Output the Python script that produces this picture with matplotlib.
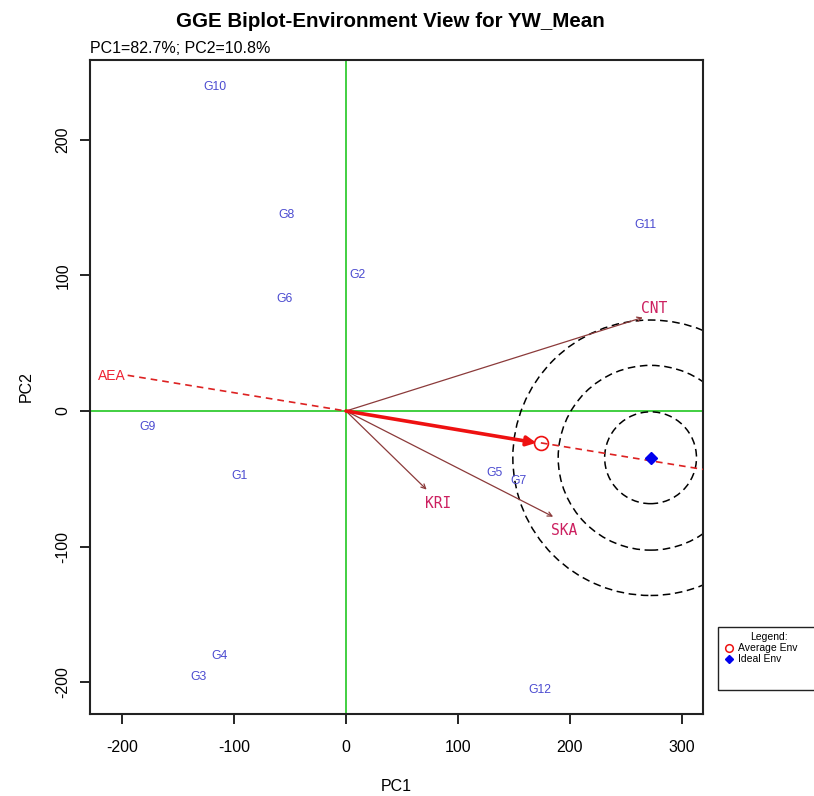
import numpy as np
import matplotlib.pyplot as plt
from matplotlib.patches import Ellipse, Rectangle
from matplotlib.lines import Line2D

plt.rcParams['axes.unicode_minus'] = False

# genotype scores (PC1, PC2)
gen_names = ['G1', 'G2', 'G3', 'G4', 'G5', 'G6', 'G7', 'G8', 'G9', 'G10', 'G11', 'G12']
gen_pc1 = [-95, 10, -132, -113, 133, -55, 154, -53, -177, -117, 267, 173]
gen_pc2 = [-48, 100, -196, -181, -46, 83, -52, 145, -12, 239, 137, -206]

# environment vectors
env_names = ['CNT', 'KRI', 'SKA']
env_pc1 = [265, 72, 185]
env_pc2 = [69, -58, -78]

# average environment, ideal environment, AEA label point
avg_env = [174, -23.5]
ideal_env = [272, -34.5]
aea_point = [-209, 26]

# concentric rings around the ideal env (PC1 units)
ring_radius = [41, 82.5, 123]

xlim = (-228.6, 318.8)
ylim = (-223.6, 259)

fig = plt.figure(figsize=(8.14, 7.96), dpi=100)
ax = fig.add_axes([0.1106, 0.103, 0.7530, 0.8216])
ax.set_xlim(xlim)
ax.set_ylim(ylim)

ax.axhline(0, color='#33cc33', lw=1.3, zorder=1)
ax.axvline(0, color='#33cc33', lw=1.3, zorder=1)

# rings: round on screen, so scale y radius by the axis aspect
bbox = ax.get_window_extent()
px_x = bbox.width / (xlim[1] - xlim[0])
px_y = bbox.height / (ylim[1] - ylim[0])
for r in ring_radius:
    e = Ellipse(ideal_env, 2 * r, 2 * r * px_x / px_y, fill=False,
                ls=(0, (5, 3)), lw=1.1, color='black', zorder=2)
    ax.add_patch(e)

# AEA line
slope = avg_env[1] / avg_env[0]
ax.plot([aea_point[0] + 14, 0], [slope * (aea_point[0] + 14), 0],
        color='#dd2222', ls=(0, (4, 3)), lw=1.2, zorder=3)
ax.plot([avg_env[0], xlim[1]], [avg_env[1], slope * xlim[1]],
        color='#dd2222', ls=(0, (4, 3)), lw=1.2, zorder=3)
ax.text(aea_point[0], aea_point[1], 'AEA', color='#ee2233', fontsize=10,
        ha='center', va='center', family='Liberation Sans')

# environment vectors
for name, x, y in zip(env_names, env_pc1, env_pc2):
    ax.annotate('', xy=(x, y), xytext=(0, 0),
                arrowprops=dict(arrowstyle='->', color='#8b3a3a', lw=0.9,
                                shrinkA=0, shrinkB=0, mutation_scale=8))
    ax.text(x + 10, y - 10 if y < 0 else y + 7, name, color='#cc2060',
            fontsize=10.5, family='DejaVu Sans Mono', ha='center', va='center')

# average env arrow
ax.annotate('', xy=(avg_env[0] - 4, avg_env[1]), xytext=(0, 0),
            arrowprops=dict(arrowstyle='-|>', color='#ee1111', lw=2.6,
                            shrinkA=0, shrinkB=0, mutation_scale=14))
ax.plot(avg_env[0], avg_env[1], 'o', mfc='none', mec='#ee1111', ms=10, mew=1.2, zorder=5)
ax.plot(ideal_env[0], ideal_env[1], 'D', color='#0000ee', ms=6, zorder=5)

# genotypes
for name, x, y in zip(gen_names, gen_pc1, gen_pc2):
    ax.text(x, y, name, color='#4b4bd0', fontsize=8.8, ha='center', va='center',
            family='Liberation Sans')

ax.set_xticks([-200, -100, 0, 100, 200, 300])
ax.set_yticks([-200, -100, 0, 100, 200])
ax.tick_params(labelsize=11.5, length=7, width=1.2)
ax.tick_params(axis='x', pad=12)
ax.tick_params(axis='y', pad=7)
for lab in ax.get_xticklabels() + ax.get_yticklabels():
    lab.set_family('Liberation Sans')
for lab in ax.get_yticklabels():
    lab.set_rotation(90)
    lab.set_va('center')
for s in ax.spines.values():
    s.set_linewidth(1.5)
    s.set_color('#222222')

ax.set_xlabel('PC1', fontsize=11.5, family='Liberation Sans', labelpad=17)
ax.set_ylabel('PC2', fontsize=11.5, family='Liberation Sans', labelpad=16)

fig.text(0.479, 0.973, 'GGE Biplot-Environment View for YW_Mean', ha='center', va='center',
         fontsize=14.8, fontweight='bold', family='Liberation Sans')
fig.text(0.110, 0.939, 'PC1=82.7%; PC2=10.8%', ha='left', va='center',
         fontsize=11.5, family='Liberation Sans')

# legend box outside the plot, cut at the right edge
fig.patches.append(Rectangle((0.882, 0.133), 0.2, 0.079, transform=fig.transFigure,
                             fill=False, lw=1.0, color='#222222'))
fig.text(0.945, 0.2, 'Legend:', ha='center', va='center', fontsize=7.5, family='Liberation Sans')
fig.lines.append(Line2D([0.896], [0.186], transform=fig.transFigure, marker='o',
                        mfc='none', mec='#ee1111', ms=5.5, mew=1.1))
fig.lines.append(Line2D([0.896], [0.172], transform=fig.transFigure, marker='D',
                        color='#0000ee', ms=4.5))
fig.text(0.907, 0.186, 'Average Env', ha='left', va='center', fontsize=7.5, family='Liberation Sans')
fig.text(0.907, 0.172, 'Ideal Env', ha='left', va='center', fontsize=7.5, family='Liberation Sans')

fig.savefig('out.png', dpi=100)
